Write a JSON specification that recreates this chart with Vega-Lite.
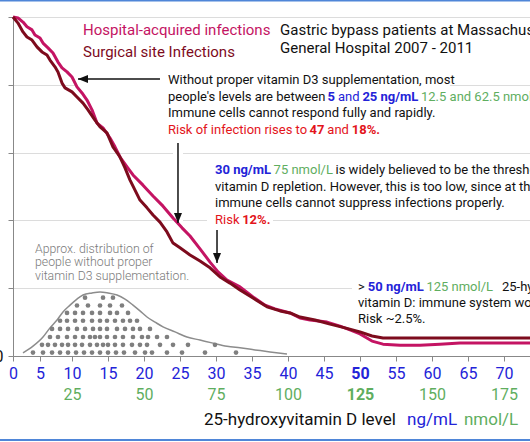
{
  "$schema": "https://vega.github.io/schema/vega-lite/v6.json",
  "width": 517,
  "height": 339,
  "autosize": {"type": "none"},
  "padding": {"left": 13, "top": 17, "right": 0, "bottom": 86},
  "background": "white",
  "config": {"view": {"stroke": null}, "font": "Roboto"},
  "datasets": {
    "curves": [
      {"series": "Hospital-acquired infections", "ng": 0, "risk": 100},
      {"series": "Hospital-acquired infections", "ng": 0.93, "risk": 99.7},
      {"series": "Hospital-acquired infections", "ng": 1.85, "risk": 98.5},
      {"series": "Hospital-acquired infections", "ng": 2.59, "risk": 97.1},
      {"series": "Hospital-acquired infections", "ng": 3.52, "risk": 96.2},
      {"series": "Hospital-acquired infections", "ng": 4.07, "risk": 94.7},
      {"series": "Hospital-acquired infections", "ng": 5.0, "risk": 93.8},
      {"series": "Hospital-acquired infections", "ng": 5.47, "risk": 92.3},
      {"series": "Hospital-acquired infections", "ng": 6.25, "risk": 90.9},
      {"series": "Hospital-acquired infections", "ng": 7.03, "risk": 89.4},
      {"series": "Hospital-acquired infections", "ng": 7.81, "risk": 86.7},
      {"series": "Hospital-acquired infections", "ng": 8.44, "risk": 85.0},
      {"series": "Hospital-acquired infections", "ng": 9.22, "risk": 83.8},
      {"series": "Hospital-acquired infections", "ng": 10.0, "risk": 82.3},
      {"series": "Hospital-acquired infections", "ng": 10.69, "risk": 79.4},
      {"series": "Hospital-acquired infections", "ng": 11.39, "risk": 77.6},
      {"series": "Hospital-acquired infections", "ng": 12.08, "risk": 75.5},
      {"series": "Hospital-acquired infections", "ng": 12.78, "risk": 72.6},
      {"series": "Hospital-acquired infections", "ng": 13.47, "risk": 68.7},
      {"series": "Hospital-acquired infections", "ng": 14.31, "risk": 67.3},
      {"series": "Hospital-acquired infections", "ng": 15.28, "risk": 64.3},
      {"series": "Hospital-acquired infections", "ng": 15.97, "risk": 61.7},
      {"series": "Hospital-acquired infections", "ng": 16.67, "risk": 58.7},
      {"series": "Hospital-acquired infections", "ng": 17.64, "risk": 55.8},
      {"series": "Hospital-acquired infections", "ng": 18.47, "risk": 53.4},
      {"series": "Hospital-acquired infections", "ng": 19.86, "risk": 50.4},
      {"series": "Hospital-acquired infections", "ng": 21.25, "risk": 47.2},
      {"series": "Hospital-acquired infections", "ng": 22.64, "risk": 44.2},
      {"series": "Hospital-acquired infections", "ng": 24.03, "risk": 40.7},
      {"series": "Hospital-acquired infections", "ng": 25.28, "risk": 37.8},
      {"series": "Hospital-acquired infections", "ng": 26.39, "risk": 35.4},
      {"series": "Hospital-acquired infections", "ng": 27.78, "risk": 31.6},
      {"series": "Hospital-acquired infections", "ng": 29.17, "risk": 27.7},
      {"series": "Hospital-acquired infections", "ng": 30.28, "risk": 24.8},
      {"series": "Hospital-acquired infections", "ng": 31.53, "risk": 22.4},
      {"series": "Hospital-acquired infections", "ng": 33.33, "risk": 20.4},
      {"series": "Hospital-acquired infections", "ng": 35.14, "risk": 17.4},
      {"series": "Hospital-acquired infections", "ng": 36.81, "risk": 15.0},
      {"series": "Hospital-acquired infections", "ng": 38.19, "risk": 13.9},
      {"series": "Hospital-acquired infections", "ng": 40.28, "risk": 12.7},
      {"series": "Hospital-acquired infections", "ng": 41.67, "risk": 11.2},
      {"series": "Hospital-acquired infections", "ng": 43.06, "risk": 10.6},
      {"series": "Hospital-acquired infections", "ng": 45.42, "risk": 10.0},
      {"series": "Hospital-acquired infections", "ng": 47.22, "risk": 8.8},
      {"series": "Hospital-acquired infections", "ng": 48.61, "risk": 7.7},
      {"series": "Hospital-acquired infections", "ng": 50.0, "risk": 6.5},
      {"series": "Hospital-acquired infections", "ng": 51.67, "risk": 4.4},
      {"series": "Hospital-acquired infections", "ng": 53.19, "risk": 3.5},
      {"series": "Hospital-acquired infections", "ng": 55.56, "risk": 3.2},
      {"series": "Hospital-acquired infections", "ng": 58.33, "risk": 3.2},
      {"series": "Hospital-acquired infections", "ng": 61.11, "risk": 3.5},
      {"series": "Hospital-acquired infections", "ng": 63.89, "risk": 3.8},
      {"series": "Hospital-acquired infections", "ng": 66.67, "risk": 3.8},
      {"series": "Hospital-acquired infections", "ng": 69.44, "risk": 3.8},
      {"series": "Hospital-acquired infections", "ng": 73.61, "risk": 3.8},
      {"series": "Surgical site infections", "ng": 0, "risk": 100},
      {"series": "Surgical site infections", "ng": 0.93, "risk": 98.2},
      {"series": "Surgical site infections", "ng": 1.85, "risk": 95.6},
      {"series": "Surgical site infections", "ng": 2.59, "risk": 94.1},
      {"series": "Surgical site infections", "ng": 3.52, "risk": 93.2},
      {"series": "Surgical site infections", "ng": 4.44, "risk": 91.2},
      {"series": "Surgical site infections", "ng": 5.31, "risk": 89.7},
      {"series": "Surgical site infections", "ng": 6.09, "risk": 88.8},
      {"series": "Surgical site infections", "ng": 6.56, "risk": 87.3},
      {"series": "Surgical site infections", "ng": 7.34, "risk": 85.3},
      {"series": "Surgical site infections", "ng": 7.81, "risk": 83.8},
      {"series": "Surgical site infections", "ng": 8.44, "risk": 80.5},
      {"series": "Surgical site infections", "ng": 8.91, "risk": 79.1},
      {"series": "Surgical site infections", "ng": 10.0, "risk": 77.9},
      {"series": "Surgical site infections", "ng": 10.69, "risk": 76.4},
      {"series": "Surgical site infections", "ng": 11.53, "risk": 74.6},
      {"series": "Surgical site infections", "ng": 12.22, "risk": 72.6},
      {"series": "Surgical site infections", "ng": 13.19, "risk": 69.6},
      {"series": "Surgical site infections", "ng": 13.89, "risk": 67.6},
      {"series": "Surgical site infections", "ng": 14.86, "risk": 65.8},
      {"series": "Surgical site infections", "ng": 15.69, "risk": 61.7},
      {"series": "Surgical site infections", "ng": 16.67, "risk": 58.7},
      {"series": "Surgical site infections", "ng": 17.36, "risk": 55.5},
      {"series": "Surgical site infections", "ng": 18.06, "risk": 51.9},
      {"series": "Surgical site infections", "ng": 19.44, "risk": 46.0},
      {"series": "Surgical site infections", "ng": 20.42, "risk": 43.7},
      {"series": "Surgical site infections", "ng": 21.25, "risk": 41.6},
      {"series": "Surgical site infections", "ng": 22.22, "risk": 39.5},
      {"series": "Surgical site infections", "ng": 23.19, "risk": 36.6},
      {"series": "Surgical site infections", "ng": 24.03, "risk": 33.3},
      {"series": "Surgical site infections", "ng": 25.0, "risk": 31.9},
      {"series": "Surgical site infections", "ng": 26.39, "risk": 29.8},
      {"series": "Surgical site infections", "ng": 27.78, "risk": 28.0},
      {"series": "Surgical site infections", "ng": 29.17, "risk": 26.0},
      {"series": "Surgical site infections", "ng": 30.56, "risk": 23.3},
      {"series": "Surgical site infections", "ng": 31.94, "risk": 21.5},
      {"series": "Surgical site infections", "ng": 33.33, "risk": 19.5},
      {"series": "Surgical site infections", "ng": 35.14, "risk": 17.1},
      {"series": "Surgical site infections", "ng": 37.08, "risk": 14.5},
      {"series": "Surgical site infections", "ng": 38.89, "risk": 13.3},
      {"series": "Surgical site infections", "ng": 40.28, "risk": 12.7},
      {"series": "Surgical site infections", "ng": 41.67, "risk": 11.5},
      {"series": "Surgical site infections", "ng": 43.75, "risk": 10.6},
      {"series": "Surgical site infections", "ng": 45.83, "risk": 9.4},
      {"series": "Surgical site infections", "ng": 47.92, "risk": 8.3},
      {"series": "Surgical site infections", "ng": 50.0, "risk": 7.1},
      {"series": "Surgical site infections", "ng": 51.67, "risk": 5.9},
      {"series": "Surgical site infections", "ng": 53.19, "risk": 5.3},
      {"series": "Surgical site infections", "ng": 58.33, "risk": 5.3},
      {"series": "Surgical site infections", "ng": 63.89, "risk": 5.3},
      {"series": "Surgical site infections", "ng": 69.44, "risk": 5.3},
      {"series": "Surgical site infections", "ng": 73.61, "risk": 5.3}
    ],
    "dist": [
      {"ng": 1.85, "share": 0.9}, {"ng": 3.7, "share": 2.9}, {"ng": 5.47, "share": 5.6},
      {"ng": 6.56, "share": 8.3}, {"ng": 7.66, "share": 10.6}, {"ng": 8.59, "share": 13.0},
      {"ng": 9.69, "share": 15.0}, {"ng": 10.69, "share": 16.8}, {"ng": 11.53, "share": 18.0},
      {"ng": 12.78, "share": 18.6}, {"ng": 13.89, "share": 18.9}, {"ng": 15.0, "share": 18.6},
      {"ng": 16.25, "share": 18.0}, {"ng": 17.36, "share": 16.8}, {"ng": 18.47, "share": 15.0},
      {"ng": 19.44, "share": 13.3}, {"ng": 20.42, "share": 11.5}, {"ng": 21.53, "share": 10.0},
      {"ng": 22.64, "share": 8.6}, {"ng": 24.31, "share": 7.1}, {"ng": 25.97, "share": 5.6},
      {"ng": 27.78, "share": 4.7}, {"ng": 29.58, "share": 3.8}, {"ng": 31.53, "share": 2.9},
      {"ng": 33.33, "share": 2.4}, {"ng": 35.42, "share": 1.8}, {"ng": 37.5, "share": 1.2},
      {"ng": 39.86, "share": 0.6}
    ],
    "dots": [
      {"ng": 3.7, "level": 1.0}, {"ng": 5.47, "level": 1.0}, {"ng": 6.88, "level": 1.0}, {"ng": 8.13, "level": 1.0},
      {"ng": 9.38, "level": 1.0}, {"ng": 10.56, "level": 1.0}, {"ng": 11.67, "level": 1.0}, {"ng": 12.78, "level": 1.0},
      {"ng": 13.89, "level": 1.0}, {"ng": 15.0, "level": 1.0}, {"ng": 16.11, "level": 1.0}, {"ng": 17.22, "level": 1.0},
      {"ng": 18.75, "level": 1.0}, {"ng": 20.14, "level": 1.0}, {"ng": 21.11, "level": 1.0}, {"ng": 23.19, "level": 1.0},
      {"ng": 25.28, "level": 1.0}, {"ng": 28.47, "level": 1.0}, {"ng": 32.78, "level": 1.0},
      {"ng": 5.31, "level": 3.3}, {"ng": 6.25, "level": 3.3}, {"ng": 7.34, "level": 3.3}, {"ng": 8.44, "level": 3.3},
      {"ng": 9.38, "level": 3.3}, {"ng": 10.42, "level": 3.3}, {"ng": 11.39, "level": 3.3}, {"ng": 12.5, "level": 3.3},
      {"ng": 13.47, "level": 3.3}, {"ng": 14.31, "level": 3.3}, {"ng": 15.0, "level": 3.3}, {"ng": 15.97, "level": 3.3},
      {"ng": 17.08, "level": 3.3}, {"ng": 18.33, "level": 3.3}, {"ng": 19.44, "level": 3.3}, {"ng": 20.42, "level": 3.3},
      {"ng": 22.22, "level": 3.3}, {"ng": 24.03, "level": 3.3}, {"ng": 26.11, "level": 3.3}, {"ng": 29.86, "level": 3.3},
      {"ng": 6.56, "level": 5.6}, {"ng": 7.81, "level": 5.6}, {"ng": 9.22, "level": 5.6}, {"ng": 10.42, "level": 5.6},
      {"ng": 11.53, "level": 5.6}, {"ng": 12.5, "level": 5.6}, {"ng": 13.19, "level": 5.6}, {"ng": 13.89, "level": 5.6},
      {"ng": 14.86, "level": 5.6}, {"ng": 15.97, "level": 5.6}, {"ng": 17.08, "level": 5.6}, {"ng": 18.47, "level": 5.6},
      {"ng": 19.72, "level": 5.6}, {"ng": 20.56, "level": 5.6}, {"ng": 21.81, "level": 5.6}, {"ng": 23.19, "level": 5.6},
      {"ng": 6.88, "level": 8.0}, {"ng": 8.13, "level": 8.0}, {"ng": 9.38, "level": 8.0}, {"ng": 10.69, "level": 8.0},
      {"ng": 11.81, "level": 8.0}, {"ng": 12.92, "level": 8.0}, {"ng": 13.89, "level": 8.0}, {"ng": 14.86, "level": 8.0},
      {"ng": 16.25, "level": 8.0}, {"ng": 17.36, "level": 8.0}, {"ng": 18.47, "level": 8.0}, {"ng": 19.44, "level": 8.0},
      {"ng": 20.83, "level": 8.0},
      {"ng": 8.13, "level": 10.4}, {"ng": 9.22, "level": 10.4}, {"ng": 10.42, "level": 10.4}, {"ng": 11.53, "level": 10.4},
      {"ng": 12.78, "level": 10.4}, {"ng": 13.89, "level": 10.4}, {"ng": 14.86, "level": 10.4}, {"ng": 15.97, "level": 10.4},
      {"ng": 17.08, "level": 10.4}, {"ng": 18.06, "level": 10.4}, {"ng": 19.03, "level": 10.4},
      {"ng": 9.22, "level": 12.7}, {"ng": 10.42, "level": 12.7}, {"ng": 11.53, "level": 12.7}, {"ng": 12.78, "level": 12.7},
      {"ng": 13.89, "level": 12.7}, {"ng": 15.28, "level": 12.7}, {"ng": 16.25, "level": 12.7}, {"ng": 17.78, "level": 12.7},
      {"ng": 10.69, "level": 14.9}, {"ng": 12.22, "level": 14.9}, {"ng": 13.89, "level": 14.9}, {"ng": 15.28, "level": 14.9},
      {"ng": 16.94, "level": 14.9},
      {"ng": 11.81, "level": 17.2}, {"ng": 14.31, "level": 17.2}, {"ng": 15.69, "level": 17.2}
    ],
    "notes": [
      {"group": "title", "role": "hai", "ng": 11.53, "risk": 96.2, "text": "Hospital-acquired infections"},
      {"group": "title", "role": "ssi", "ng": 11.53, "risk": 89.7, "text": "Surgical site Infections"},
      {"group": "title", "role": "text", "ng": 38.89, "risk": 96.2, "text": "Gastric bypass patients at Massachusetts"},
      {"group": "title", "role": "text", "ng": 38.89, "risk": 90.9, "text": "General Hospital 2007 - 2011"},
      {"group": "note", "role": "text", "ng": 23.33, "risk": 81.4, "text": "Without proper vitamin D3 supplementation, most"},
      {"group": "note", "role": "text", "ng": 23.33, "risk": 76.4, "text": "people's levels are between"},
      {"group": "note", "role": "ng", "ng": 46.94, "risk": 76.4, "text": "and"},
      {"group": "note", "role": "nmol", "ng": 58.47, "risk": 76.4, "text": "12.5 and 62.5 nmol/L"},
      {"group": "note", "role": "text", "ng": 23.33, "risk": 71.7, "text": "Immune cells cannot respond fully and rapidly."},
      {"group": "note", "role": "risk", "ng": 23.33, "risk": 66.7, "text": "Risk of infection rises to"},
      {"group": "note", "role": "risk", "ng": 45.46, "risk": 66.7, "text": "and"},
      {"group": "note", "role": "nmol", "ng": 38.0, "risk": 54.9, "text": "75 nmol/L"},
      {"group": "note", "role": "text", "ng": 46.6, "risk": 54.9, "text": "is widely believed to be the threshold for"},
      {"group": "note", "role": "text", "ng": 29.86, "risk": 49.9, "text": "vitamin D repletion.  However, this is too low, since at this"},
      {"group": "note", "role": "text", "ng": 29.86, "risk": 45.1, "text": "immune cells cannot suppress infections properly."},
      {"group": "note", "role": "risk", "ng": 29.86, "risk": 40.1, "text": "Risk"},
      {"group": "note", "role": "text", "ng": 49.72, "risk": 20.4, "text": ">"},
      {"group": "note", "role": "nmol", "ng": 59.22, "risk": 20.4, "text": "125 nmol/L"},
      {"group": "note", "role": "text", "ng": 69.72, "risk": 20.4, "text": "25-hydroxyvitamin"},
      {"group": "note", "role": "text", "ng": 49.72, "risk": 15.6, "text": "vitamin D: immune system works optimally."},
      {"group": "note", "role": "text", "ng": 49.72, "risk": 10.9, "text": "Risk ~2.5%."},
      {"group": "bold", "role": "ng", "ng": 45.49, "risk": 76.4, "text": "5"},
      {"group": "bold", "role": "ng", "ng": 50.33, "risk": 76.4, "text": "25 ng/mL"},
      {"group": "bold", "role": "risk", "ng": 42.99, "risk": 66.7, "text": "47"},
      {"group": "bold", "role": "risk", "ng": 48.85, "risk": 66.7, "text": "18%."},
      {"group": "bold", "role": "ng", "ng": 29.86, "risk": 54.9, "text": "30 ng/mL"},
      {"group": "bold", "role": "risk", "ng": 33.63, "risk": 40.1, "text": "12%."},
      {"group": "bold", "role": "ng", "ng": 51.08, "risk": 20.4, "text": "50 ng/mL"},
      {"group": "caption", "role": "caption", "ng": 4.07, "risk": 31.7, "text": "Approx. distribution of"},
      {"group": "caption", "role": "caption", "ng": 4.07, "risk": 27.7, "text": "people without proper"},
      {"group": "caption", "role": "caption", "ng": 4.07, "risk": 23.7, "text": "vitamin D3 supplementation."},
      {"group": "axis", "role": "text", "ng": 28.33, "risk": -18.9, "text": "25-hydroxyvitamin D level"},
      {"group": "axis", "role": "ng", "ng": 56.53, "risk": -18.9, "text": "ng/mL"},
      {"group": "axis", "role": "nmol", "ng": 64.44, "risk": -18.9, "text": "nmol/L"}
    ],
    "arrows": [
      {"dir": "left", "ng": 22.22, "risk": 81.7, "ng2": 10.83, "risk2": 81.7},
      {"dir": "down", "ng": 24.72, "risk": 62.8, "ng2": 24.72, "risk2": 39.2},
      {"dir": "down", "ng": 30.14, "risk": 37.2, "ng2": 30.14, "risk2": 27.4}
    ],
    "boxes": [
      {"ng": 10.42, "ng2": 62.5, "risk": 78.5, "risk2": 83.8},
      {"ng": 28.75, "ng2": 37.92, "risk": 37.8, "risk2": 42.2},
      {"ng": 48.89, "ng2": 73.61, "risk": 18.0, "risk2": 22.7}
    ],
    "frame": [
      {"ng": -2.41, "ng2": 73.61, "risk": 104.87},
      {"ng": -2.41, "ng2": 73.61, "risk": -24.8}
    ]
  },
  "resolve": {"scale": {"color": "independent", "shape": "independent"}, "axis": {"x": "independent", "y": "independent"}},
  "layer": [
    {
      "data": {"name": "frame"},
      "mark": {"type": "rule", "color": "#4f86d8", "strokeWidth": 2},
      "encoding": {
        "x": {"field": "ng", "type": "quantitative", "scale": {"domain": [0, 5, 10, 73.61], "range": [0, 27, 59, 517], "nice": false}, "axis": null},
        "x2": {"field": "ng2"},
        "y": {"field": "risk", "type": "quantitative", "scale": {"domain": [0, 100], "nice": false}, "axis": null}
      }
    },
    {
      "data": {"name": "boxes"},
      "mark": {"type": "rect", "color": "white"},
      "encoding": {
        "x": {"field": "ng", "type": "quantitative", "scale": {"domain": [0, 5, 10, 73.61], "range": [0, 27, 59, 517], "nice": false}, "axis": null},
        "x2": {"field": "ng2"},
        "y": {"field": "risk", "type": "quantitative", "scale": {"domain": [0, 100], "nice": false}, "axis": null},
        "y2": {"field": "risk2"}
      }
    },
    {
      "data": {"name": "arrows"},
      "transform": [{"filter": "datum.dir === 'down'"}],
      "mark": {"type": "rule", "color": "white", "strokeWidth": 10},
      "encoding": {
        "x": {"field": "ng", "type": "quantitative", "scale": {"domain": [0, 5, 10, 73.61], "range": [0, 27, 59, 517], "nice": false}, "axis": null},
        "x2": {"field": "ng2"},
        "y": {"field": "risk", "type": "quantitative", "scale": {"domain": [0, 100], "nice": false}, "axis": null},
        "y2": {"field": "risk2"}
      }
    },
    {
      "data": {"name": "dist"},
      "mark": {"type": "line", "color": "#8c8c8c", "strokeWidth": 1.5, "interpolate": "monotone"},
      "encoding": {
        "x": {"field": "ng", "type": "quantitative", "scale": {"domain": [0, 5, 10, 73.61], "range": [0, 27, 59, 517], "nice": false}, "axis": null},
        "y": {"field": "share", "type": "quantitative", "scale": {"domain": [0, 100], "nice": false}, "axis": null}
      }
    },
    {
      "data": {"name": "dots"},
      "mark": {"type": "circle", "color": "#7f7f7f", "size": 22, "opacity": 1},
      "encoding": {
        "x": {
          "field": "ng", "type": "quantitative",
          "scale": {"domain": [0, 5, 10, 73.61], "range": [0, 27, 59, 517], "nice": false},
          "axis": {
            "orient": "bottom", "values": [10, 20, 30, 40, 50, 60, 70], "title": null, "grid": false,
            "domain": false, "ticks": false, "tickSize": 0, "labelPadding": 30,
            "labelExpr": "format(datum.value * 2.5, 'd')", "labelColor": "#5fae5f", "labelFontSize": 16,
            "labelFont": "Roboto", "labelFlush": false, "labelOverlap": false,
            "labelFontWeight": {"condition": {"test": "datum.value === 50", "value": "bold"}, "value": "normal"}
          }
        },
        "y": {"field": "level", "type": "quantitative", "scale": {"domain": [0, 100], "nice": false}, "axis": null}
      }
    },
    {
      "data": {"name": "curves"},
      "mark": {"type": "line", "strokeWidth": 3, "strokeJoin": "round"},
      "encoding": {
        "x": {
          "field": "ng", "type": "quantitative",
          "scale": {"domain": [0, 5, 10, 73.61], "range": [0, 27, 59, 517], "nice": false},
          "axis": {
            "orient": "bottom", "values": [0, 5, 10, 15, 20, 25, 30, 35, 40, 45, 50, 55, 60, 65, 70], "title": null, "grid": false,
            "domainColor": "#888888", "tickColor": "#888888", "tickSize": 5, "labelPadding": 4,
            "labelColor": "#2323d8", "labelFontSize": 16, "labelFont": "Roboto", "labelFlush": false, "labelOverlap": false,
            "labelFontWeight": {"condition": {"test": "datum.value === 50", "value": "bold"}, "value": "normal"}
          }
        },
        "y": {
          "field": "risk", "type": "quantitative",
          "scale": {"domain": [0, 100], "nice": false},
          "axis": {
            "orient": "left", "values": [0, 20, 40, 60, 80, 100], "title": null, "grid": true, "gridColor": "#dcdcdc", "gridWidth": 1.2,
            "domainColor": "#888888", "tickColor": "#888888", "tickSize": 5, "labelPadding": 5,
            "labelExpr": "datum.value === 0 ? '0' : ''", "labelColor": "#111111", "labelFontSize": 16, "labelFont": "Roboto", "labelFlush": false
          }
        },
        "color": {
          "field": "series", "type": "nominal",
          "scale": {"domain": ["Hospital-acquired infections", "Surgical site infections"], "range": ["#c41463", "#7d0b1d"]},
          "legend": null
        }
      }
    },
    {
      "data": {"name": "arrows"},
      "mark": {"type": "rule", "color": "#111111", "strokeWidth": 1.5},
      "encoding": {
        "x": {"field": "ng", "type": "quantitative", "scale": {"domain": [0, 5, 10, 73.61], "range": [0, 27, 59, 517], "nice": false}, "axis": null},
        "x2": {"field": "ng2"},
        "y": {"field": "risk", "type": "quantitative", "scale": {"domain": [0, 100], "nice": false}, "axis": null},
        "y2": {"field": "risk2"}
      }
    },
    {
      "data": {"name": "arrows"},
      "mark": {"type": "point", "filled": true, "color": "#111111", "size": 64, "opacity": 1, "strokeWidth": 0},
      "encoding": {
        "x": {"field": "ng2", "type": "quantitative", "scale": {"domain": [0, 5, 10, 73.61], "range": [0, 27, 59, 517], "nice": false}, "axis": null},
        "y": {"field": "risk2", "type": "quantitative", "scale": {"domain": [0, 100], "nice": false}, "axis": null},
        "shape": {
          "field": "dir", "type": "nominal",
          "scale": {"domain": ["left", "down"], "range": ["M0,0L2.5,-1L2.5,1Z", "M0,0L-1,-2.5L1,-2.5Z"]},
          "legend": null
        }
      }
    },
    {
      "data": {"name": "notes"},
      "transform": [{"filter": "datum.group === 'title'"}],
      "mark": {"type": "text", "align": "left", "baseline": "middle", "fontSize": 15, "font": "Roboto"},
      "encoding": {
        "x": {"field": "ng", "type": "quantitative", "scale": {"domain": [0, 5, 10, 73.61], "range": [0, 27, 59, 517], "nice": false}, "axis": null},
        "y": {"field": "risk", "type": "quantitative", "scale": {"domain": [0, 100], "nice": false}, "axis": null},
        "text": {"field": "text"},
        "color": {
          "field": "role", "type": "nominal",
          "scale": {"domain": ["hai", "ssi", "text", "ng", "nmol", "risk", "caption"], "range": ["#c41463", "#7d0b1d", "#111111", "#2323d8", "#5fae5f", "#e3141b", "#7a7a7a"]},
          "legend": null
        }
      }
    },
    {
      "data": {"name": "notes"},
      "transform": [{"filter": "datum.group === 'note'"}],
      "mark": {"type": "text", "align": "left", "baseline": "middle", "fontSize": 13, "font": "Roboto"},
      "encoding": {
        "x": {"field": "ng", "type": "quantitative", "scale": {"domain": [0, 5, 10, 73.61], "range": [0, 27, 59, 517], "nice": false}, "axis": null},
        "y": {"field": "risk", "type": "quantitative", "scale": {"domain": [0, 100], "nice": false}, "axis": null},
        "text": {"field": "text"},
        "color": {
          "field": "role", "type": "nominal",
          "scale": {"domain": ["hai", "ssi", "text", "ng", "nmol", "risk", "caption"], "range": ["#c41463", "#7d0b1d", "#111111", "#2323d8", "#5fae5f", "#e3141b", "#7a7a7a"]},
          "legend": null
        }
      }
    },
    {
      "data": {"name": "notes"},
      "transform": [{"filter": "datum.group === 'bold'"}],
      "mark": {"type": "text", "align": "left", "baseline": "middle", "fontSize": 13, "fontWeight": "bold", "font": "Roboto"},
      "encoding": {
        "x": {"field": "ng", "type": "quantitative", "scale": {"domain": [0, 5, 10, 73.61], "range": [0, 27, 59, 517], "nice": false}, "axis": null},
        "y": {"field": "risk", "type": "quantitative", "scale": {"domain": [0, 100], "nice": false}, "axis": null},
        "text": {"field": "text"},
        "color": {
          "field": "role", "type": "nominal",
          "scale": {"domain": ["hai", "ssi", "text", "ng", "nmol", "risk", "caption"], "range": ["#c41463", "#7d0b1d", "#111111", "#2323d8", "#5fae5f", "#e3141b", "#7a7a7a"]},
          "legend": null
        }
      }
    },
    {
      "data": {"name": "notes"},
      "transform": [{"filter": "datum.group === 'caption'"}],
      "mark": {"type": "text", "align": "left", "baseline": "middle", "fontSize": 12.3, "font": "Roboto", "fontWeight": 300},
      "encoding": {
        "x": {"field": "ng", "type": "quantitative", "scale": {"domain": [0, 5, 10, 73.61], "range": [0, 27, 59, 517], "nice": false}, "axis": null},
        "y": {"field": "risk", "type": "quantitative", "scale": {"domain": [0, 100], "nice": false}, "axis": null},
        "text": {"field": "text"},
        "color": {
          "field": "role", "type": "nominal",
          "scale": {"domain": ["hai", "ssi", "text", "ng", "nmol", "risk", "caption"], "range": ["#c41463", "#7d0b1d", "#111111", "#2323d8", "#5fae5f", "#e3141b", "#7a7a7a"]},
          "legend": null
        }
      }
    },
    {
      "data": {"name": "notes"},
      "transform": [{"filter": "datum.group === 'axis'"}],
      "mark": {"type": "text", "align": "left", "baseline": "middle", "fontSize": 17, "font": "Roboto"},
      "encoding": {
        "x": {"field": "ng", "type": "quantitative", "scale": {"domain": [0, 5, 10, 73.61], "range": [0, 27, 59, 517], "nice": false}, "axis": null},
        "y": {"field": "risk", "type": "quantitative", "scale": {"domain": [0, 100], "nice": false}, "axis": null},
        "text": {"field": "text"},
        "color": {
          "field": "role", "type": "nominal",
          "scale": {"domain": ["hai", "ssi", "text", "ng", "nmol", "risk", "caption"], "range": ["#c41463", "#7d0b1d", "#111111", "#2323d8", "#5fae5f", "#e3141b", "#7a7a7a"]},
          "legend": null
        }
      }
    }
  ]
}
